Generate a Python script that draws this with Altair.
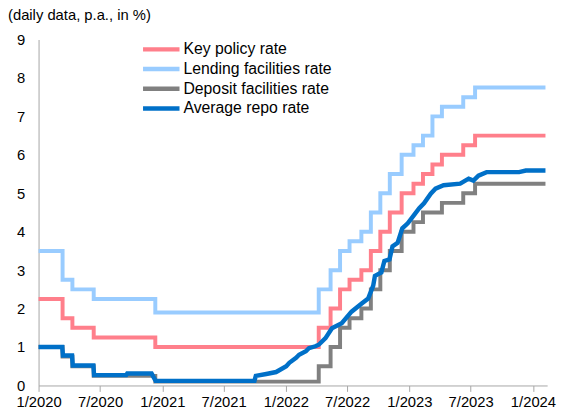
import altair as alt
import pandas as pd

subtitle = "(daily data, p.a., in %)"
series_names = ["Key policy rate", "Lending facilities rate",
                "Deposit facilities rate", "Average repo rate"]
series_colors = ["#FF7F8B", "#99CCFF", "#808080", "#0070C8"]

change_dates = ["2020-01-01", "2020-03-12", "2020-04-10", "2020-06-12", "2020-12-11",
                "2022-04-08", "2022-05-13", "2022-06-10", "2022-07-08", "2022-08-12",
                "2022-09-09", "2022-10-07", "2022-11-04", "2022-12-09", "2023-01-13",
                "2023-02-10", "2023-03-10", "2023-04-07", "2023-06-09", "2023-07-14",
                "2024-02-07"]
key_rate = [2.25, 1.75, 1.5, 1.25, 1.0, 1.5, 2.0, 2.5, 2.75, 3.0, 3.5, 4.0, 4.5,
            5.0, 5.25, 5.5, 5.75, 6.0, 6.25, 6.5, 6.5]
lending_rate = [3.5, 2.75, 2.5, 2.25, 1.9, 2.5, 3.0, 3.5, 3.75, 4.0, 4.5, 5.0, 5.5,
                6.0, 6.25, 6.5, 7.0, 7.25, 7.5, 7.75, 7.75]
deposit_rate = [1.0, 0.75, 0.5, 0.25, 0.1, 0.5, 1.0, 1.5, 1.75, 2.0, 2.5, 3.0, 3.5,
                4.0, 4.25, 4.5, 4.5, 4.75, 5.0, 5.25, 5.25]

repo_dates = ["2020-01-01", "2020-03-11", "2020-03-13", "2020-04-09", "2020-04-11",
              "2020-06-11", "2020-06-13", "2020-09-16", "2020-09-19", "2020-11-30",
              "2020-12-12", "2021-09-30", "2021-10-04", "2021-11-04", "2021-12-03",
              "2022-01-02", "2022-01-11", "2022-01-31", "2022-02-09", "2022-03-01",
              "2022-03-10", "2022-03-29", "2022-04-08", "2022-04-28", "2022-05-17",
              "2022-06-15", "2022-07-14", "2022-08-13", "2022-09-01", "2022-09-16",
              "2022-09-21", "2022-10-10", "2022-10-19", "2022-11-03", "2022-11-12",
              "2022-11-27", "2022-12-11", "2022-12-27", "2023-01-15", "2023-01-30",
              "2023-02-13", "2023-03-05", "2023-03-19", "2023-04-12", "2023-05-31",
              "2023-06-25", "2023-07-09", "2023-07-24", "2023-08-17", "2023-11-21",
              "2023-12-11", "2024-02-07"]
repo_rate = [1.0, 1.0, 0.78, 0.78, 0.52, 0.52, 0.27, 0.27, 0.31, 0.31, 0.12, 0.12,
             0.25, 0.3, 0.35, 0.5, 0.59, 0.72, 0.8, 0.89, 0.97, 1.02, 1.06, 1.23,
             1.49, 1.62, 1.92, 2.13, 2.26, 2.6, 2.85, 2.94, 3.24, 3.28, 3.62, 3.71,
             4.09, 4.22, 4.44, 4.61, 4.74, 4.99, 5.12, 5.21, 5.25, 5.38, 5.33, 5.46,
             5.55, 5.55, 5.59, 5.59]

y_ticks = [0, 1, 2, 3, 4, 5, 6, 7, 8, 9]
x_tick_years_months = [(2020, 1), (2020, 7), (2021, 1), (2021, 7), (2022, 1),
                       (2022, 7), (2023, 1), (2023, 7), (2024, 1)]

FONT = "Liberation Sans"

rows = []
for name, vals in zip(series_names[:3], [key_rate, lending_rate, deposit_rate]):
    for d, v in zip(change_dates, vals):
        rows.append({"date": pd.Timestamp(d), "value": v, "series": name})
step_df = pd.DataFrame(rows)
repo_df = pd.DataFrame({"date": pd.to_datetime(repo_dates), "value": repo_rate,
                        "series": series_names[3]})
legend_df = pd.DataFrame({"series": series_names, "row": list(range(len(series_names)))})

color_scale = alt.Scale(domain=series_names, range=series_colors)

x_enc = alt.X("date:T",
              scale=alt.Scale(domain=[alt.DateTime(year=2020, month=1, date=1),
                                      alt.DateTime(year=2024, month=2, date=12)]),
              axis=alt.Axis(values=[alt.DateTime(year=y, month=m, date=1)
                                    for y, m in x_tick_years_months],
                            format="%-m/%Y", formatType="time", title=None,
                            grid=False, domainColor="#A6A6A6", tickColor="#A6A6A6",
                            tickSize=6, labelPadding=3, labelFontSize=15,
                            labelFont=FONT, labelColor="#000000", labelFlush=False,
                            labelOverlap=False))
y_enc = alt.Y("value:Q",
              scale=alt.Scale(domain=[0, 9], nice=False),
              axis=alt.Axis(values=y_ticks, title=None, grid=False, ticks=False,
                            domainColor="#A6A6A6", labelPadding=14, labelFontSize=15,
                            labelFont=FONT, labelColor="#000000"))
color_enc = alt.Color("series:N", scale=color_scale, legend=None)

steps = alt.Chart(step_df).mark_line(interpolate="step-after", strokeWidth=4).encode(
    x=x_enc, y=y_enc, color=color_enc)
repo = alt.Chart(repo_df).mark_line(strokeWidth=4.5).encode(
    x=x_enc, y=y_enc, color=color_enc)

leg_base = alt.Chart(legend_df).transform_calculate(ly="10 + 20 * datum.row")
leg_lines = leg_base.mark_rule(strokeWidth=4.5).encode(
    x=alt.value(106), x2=alt.value(143),
    y=alt.Y("ly:Q", scale=None, axis=None),
    color=color_enc)
leg_text = leg_base.mark_text(align="left", baseline="middle", fontSize=16,
                              font=FONT, color="#000000").encode(
    x=alt.value(147), y=alt.Y("ly:Q", scale=None, axis=None), text="series:N")

sub = alt.Chart(pd.DataFrame({"t": [subtitle]})).mark_text(
    align="left", baseline="middle", fontSize=15, font=FONT, color="#000000").encode(
    x=alt.value(-31), y=alt.value(-25), text="t:N")

chart = alt.layer(steps, repo, leg_lines, leg_text, sub).properties(
    width=516, height=351,
    autosize=alt.AutoSizeParams(type="none"),
    padding={"left": 31, "top": 29, "right": 11, "bottom": 28},
).configure_view(stroke=None)

chart.save("out.html", embed_options={"renderer": "svg", "actions": False})
